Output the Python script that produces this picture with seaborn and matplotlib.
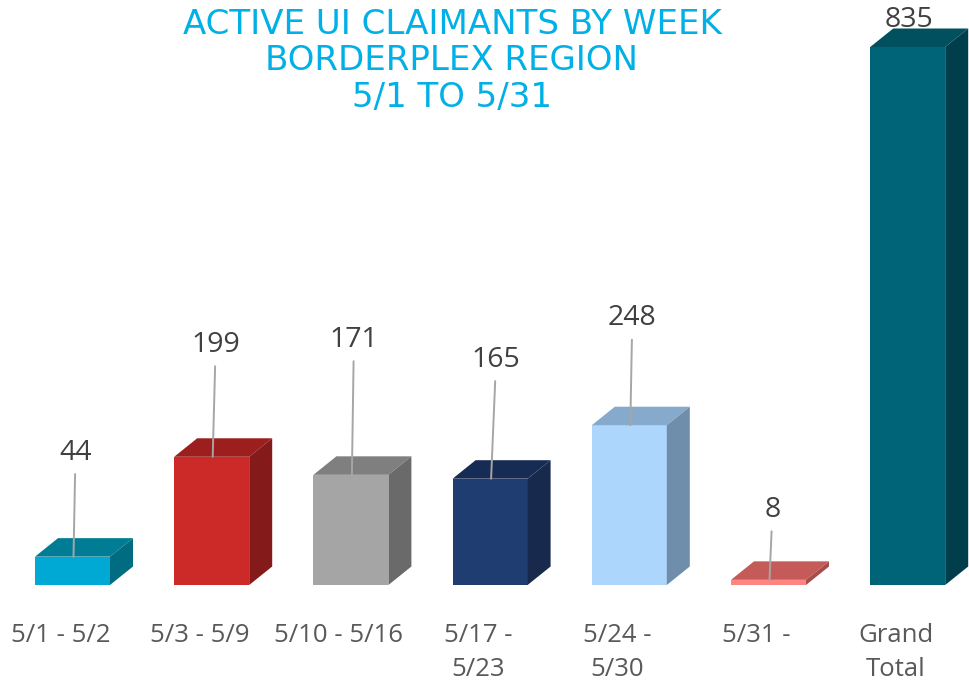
import matplotlib
matplotlib.use("Agg")
import matplotlib.pyplot as plt
from matplotlib.patches import Polygon
import seaborn as sns
import pandas as pd

# ---- data ----
categories = ["5/1 - 5/2", "5/3 - 5/9", "5/10 - 5/16", "5/17 - 5/23",
              "5/24 - 5/30", "5/31 -", "Grand Total"]
tick_labels = ["5/1 - 5/2", "5/3 - 5/9", "5/10 - 5/16", "5/17 -\n5/23",
               "5/24 -\n5/30", "5/31 -", "Grand\nTotal"]
values = [44, 199, 171, 165, 248, 8, 835]
title_lines = ["ACTIVE UI CLAIMANTS BY WEEK", "BORDERPLEX REGION", "5/1 TO 5/31"]

# ---- styles ----
front_colors = ["#00A9D4", "#CC2A29", "#A5A5A5", "#203D72", "#ADD6FC", "#FF8582", "#006478"]
top_colors = ["#007C95", "#9C1E1D", "#7F7F7F", "#172C55", "#86AACB", "#C55B59", "#00505F"]
side_colors = ["#006C82", "#841A19", "#6A6A6A", "#172A4D", "#6E8EAB", "#A84C4A", "#003E4B"]
label_offsets_px = [107, 115, 138, 122, 110, 73, 30]
label_dx_px = [2, 3, 2, 5, 2, 3, 0]

FONT = ["Open Sans", "DejaVu Sans"]
sns.set_theme(style="white")
plt.rcParams["font.family"] = FONT

W, H = 970, 683
fig = plt.figure(figsize=(W / 100, H / 100), dpi=100)
base_px = 585
ax = fig.add_axes([0, (H - base_px) / H, 1, base_px / H])

px_x = 139.2
px_y = 538 / 835.0
x_left = -72.5 / px_x

df = pd.DataFrame({"cat": categories, "val": values})
sns.barplot(data=df, x="cat", y="val", hue="cat", palette=front_colors,
            width=75 / px_x, saturation=1, legend=False, ax=ax,
            linewidth=0, edgecolor="none")
ax.set_xlim(x_left, x_left + W / px_x)
ax.set_ylim(0, base_px / px_y)

dx = 23 / px_x
dy = 18.5 / px_y
patches = sorted([p for p in ax.patches], key=lambda p: p.get_x())
for i, p in enumerate(patches):
    x0 = p.get_x()
    x1 = x0 + p.get_width()
    h = p.get_height()
    top = Polygon([(x0, h), (x1, h), (x1 + dx, h + dy), (x0 + dx, h + dy)],
                  closed=True, facecolor=top_colors[i], edgecolor="none", zorder=1.5)
    side = Polygon([(x1, 0), (x1 + dx, dy), (x1 + dx, h + dy), (x1, h)],
                   closed=True, facecolor=side_colors[i], edgecolor="none", zorder=1.5)
    ax.add_patch(top)
    ax.add_patch(side)
    cx = (x0 + x1) / 2
    arrow = None
    if i < len(patches) - 1:
        arrow = dict(arrowstyle="-", color="#A6A6A6", lw=1.4, shrinkA=3, shrinkB=0)
    ax.annotate(str(values[i]), xy=(cx + 1 / px_x, h),
                xytext=(label_dx_px[i], label_offsets_px[i] - 3),
                textcoords="offset pixels", ha="center", va="center",
                fontsize=20.5, color="#404040", arrowprops=arrow, zorder=5,
                annotation_clip=False)

# category labels
for i, lab in enumerate(tick_labels):
    for j, line in enumerate(lab.split("\n")):
        ypx = 635 + 35 * j
        ax.text(i - 12 / px_x, -(ypx - base_px) / px_y, line, ha="center", va="center",
                fontsize=18.5, color="#595959", clip_on=False)

ax.set_xticks([])
ax.set_yticks([])
ax.set_xlabel("")
ax.set_ylabel("")
for s in ax.spines.values():
    s.set_visible(False)

for k, (t, ypx) in enumerate(zip(title_lines, [24, 60, 97])):
    fig.text(452 / W, 1 - ypx / H, t, ha="center", va="center",
             fontsize=24.5, color="#00B0E6", family=["DejaVu Sans"])

fig.savefig("out.png", dpi=100, facecolor="white")
